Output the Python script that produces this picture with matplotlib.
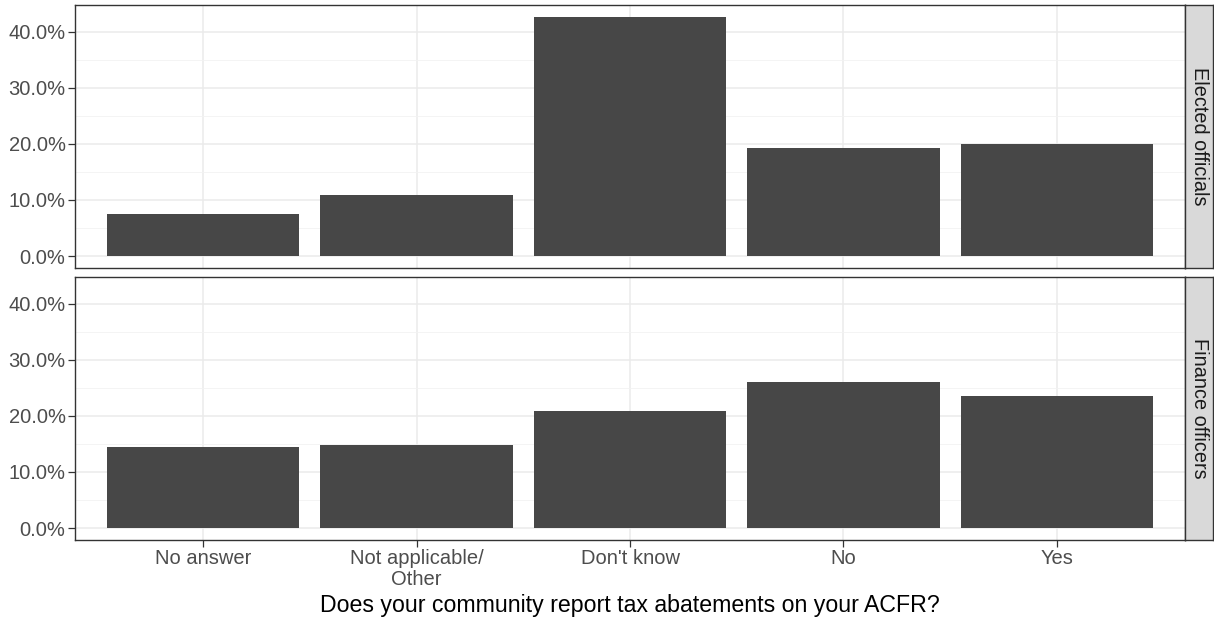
import matplotlib
matplotlib.use("Agg")
import matplotlib.pyplot as plt
from matplotlib.ticker import FuncFormatter, MultipleLocator
import numpy as np

plt.rcParams['font.family'] = ['Liberation Sans', 'DejaVu Sans']

categories = ["No answer", "Not applicable/\nOther", "Don't know", "No", "Yes"]
panels = ["Elected officials", "Finance officers"]
elected = [7.5, 10.8, 42.6, 19.2, 20.0]
finance = [14.5, 14.8, 20.8, 26.0, 23.5]
yticks = [0, 10, 20, 30, 40]
xlabel = "Does your community report tax abatements on your ACFR?"

W, H = 1214, 617
fig = plt.figure(figsize=(W / 100, H / 100), dpi=100)

left, right = 75, 1185
strip_w = 28
panel_px = [(5, 268), (277, 540)]
series = [elected, finance]
ymax = max(max(elected), max(finance))
ylo, yhi = -0.05 * ymax, ymax * 1.05

border = '#333333'
x = np.arange(1, len(categories) + 1)

for i, ((top, bot), vals, name) in enumerate(zip(panel_px, series, panels)):
    ax = fig.add_axes([left / W, 1 - bot / H, (right - left) / W, (bot - top) / H])
    ax.set_xlim(0.4, len(categories) + 0.6)
    ax.set_ylim(ylo, yhi)
    ax.set_yticks(yticks)
    ax.yaxis.set_minor_locator(MultipleLocator(5))
    ax.set_xticks(x)
    ax.grid(which='major', color='#EBEBEB', lw=1.1, zorder=0)
    ax.grid(which='minor', axis='y', color='#F2F2F2', lw=0.6, zorder=0)
    ax.set_axisbelow(True)
    ax.bar(x, vals, width=0.9, color='#474747', zorder=2)
    ax.yaxis.set_major_formatter(FuncFormatter(lambda v, p: f"{v:.1f}%"))
    ax.tick_params(which='major', length=5.3, width=0.9, color=border,
                   labelsize=14.5, labelcolor='#4D4D4D', pad=1.5)
    ax.tick_params(which='minor', length=0)
    for s in ax.spines.values():
        s.set_color(border)
        s.set_linewidth(1.0)
    if i == 0:
        ax.tick_params(axis='x', labelbottom=False, length=0)
    else:
        ax.set_xticklabels(categories, linespacing=1.12)
        ax.set_xlabel(xlabel, fontsize=16.7, color='black', labelpad=3.5)
    # strip
    sax = fig.add_axes([right / W, 1 - bot / H, strip_w / W, (bot - top) / H])
    sax.set_facecolor('#D9D9D9')
    sax.set_xticks([])
    sax.set_yticks([])
    for s in sax.spines.values():
        s.set_color(border)
        s.set_linewidth(1.0)
    sax.text(0.5, 0.5, name, rotation=-90, ha='center', va='center',
             fontsize=14.3, color='#1A1A1A', transform=sax.transAxes)

fig.savefig("out.png", dpi=100)
